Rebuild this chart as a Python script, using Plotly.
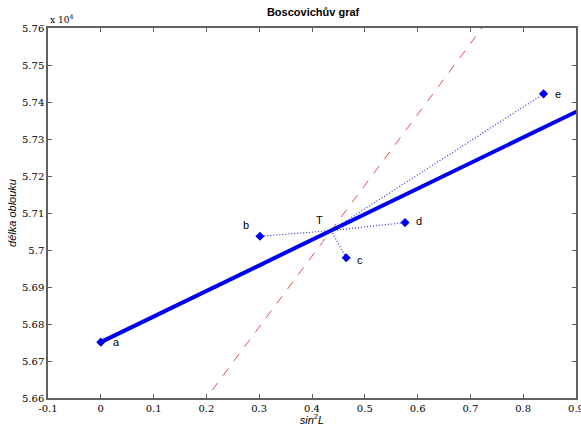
import plotly.graph_objects as go

# Boscovich's meridian arc data: sin^2 of latitude vs. arc length of one degree (toises)
labels = ["a", "b", "c", "d", "e"]
sin2L = [0.0, 0.3014, 0.4648, 0.5762, 0.8386]
arc = [56751, 57037, 56979, 57074, 57422]

# fitted lines through the centroid T
fit_slope = 691.4       # Boscovich line (passes through a and T)
alt_slope = 1915.0      # dashed reference line through T

x_range = [-0.1, 0.9]
y_ticks = [56600 + 100 * i for i in range(11)]
y_ticktext = ["%g" % round(v / 1e4, 2) for v in y_ticks]
x_ticks = [round(-0.1 + 0.1 * i, 1) for i in range(11)]

tx = sum(sin2L) / len(sin2L)
ty = sum(arc) / len(arc)

fig = go.Figure()

# dotted connectors from T to each observation
for xi, yi in zip(sin2L, arc):
    fig.add_trace(go.Scatter(x=[tx, xi], y=[ty, yi], mode="lines",
                             line=dict(color="#3030e0", width=1.2, dash="1px,2px"),
                             hoverinfo="skip", showlegend=False))

# dashed red line through T
xa0, xa1 = 0.15, 0.8
fig.add_trace(go.Scatter(x=[xa0, xa1],
                         y=[ty + alt_slope * (xa0 - tx), ty + alt_slope * (xa1 - tx)],
                         mode="lines", line=dict(color="#e05050", width=1, dash="dash"),
                         showlegend=False))

# Boscovich fitted line starting at a
xb0, xb1 = sin2L[0], 0.95
fig.add_trace(go.Scatter(x=[xb0, xb1],
                         y=[ty + fit_slope * (xb0 - tx), ty + fit_slope * (xb1 - tx)],
                         mode="lines", line=dict(color="#0000ee", width=4),
                         showlegend=False))

# observations
fig.add_trace(go.Scatter(x=sin2L, y=arc, mode="markers",
                         marker=dict(symbol="diamond", size=7, color="#0000ee"),
                         showlegend=False))

# point labels
offsets = {"a": (16, 0), "b": (-14, -11), "c": (14, 2), "d": (14, -2), "e": (14, 0)}
for lab, xi, yi in zip(labels, sin2L, arc):
    dx, dy = offsets[lab]
    fig.add_annotation(x=xi, y=yi, text=lab, showarrow=False, xshift=dx, yshift=-dy,
                       font=dict(family="Liberation Sans", size=11, color="black"))
fig.add_annotation(x=tx, y=ty, text="T", showarrow=False, xshift=-12, yshift=11,
                   font=dict(family="Liberation Sans", size=11, color="black"))

axis_common = dict(showline=True, linecolor="#606060", linewidth=1.5, mirror="ticks",
                   ticks="inside", ticklen=4, tickcolor="#606060", showgrid=False,
                   zeroline=False, ticklabeloverflow="allow", automargin=False,
                   tickfont=dict(family="DejaVu Serif", size=10, color="black"))

fig.update_xaxes(range=x_range, tickvals=x_ticks, ticktext=["%g" % v for v in x_ticks],
                 title=dict(text="<i>sin</i><sup>2</sup><i>L</i>", standoff=2,
                            font=dict(family="Liberation Sans", size=11, color="black")),
                 **axis_common)
fig.update_yaxes(range=[56600, 57600], tickvals=y_ticks, ticktext=y_ticktext,
                 title=dict(text="<i>délka oblouku</i>", standoff=3,
                            font=dict(family="Liberation Sans", size=11, color="black")),
                 **axis_common)

fig.add_annotation(xref="paper", yref="paper", x=0, y=1, xanchor="left", yanchor="bottom",
                   text="x 10<sup>4</sup>", showarrow=False, yshift=1,
                   font=dict(family="DejaVu Serif", size=9, color="black"))

fig.update_layout(
    width=581, height=426,
    margin=dict(l=48, r=5, t=28, b=28, autoexpand=False),
    paper_bgcolor="white", plot_bgcolor="white",
    title=dict(text="<b>Boscovichův graf</b>", x=0.502, xref="paper", xanchor="center",
               y=0.98, yanchor="top",
               font=dict(family="Liberation Sans", size=11, color="black")),
)

fig.write_html("out.html")
